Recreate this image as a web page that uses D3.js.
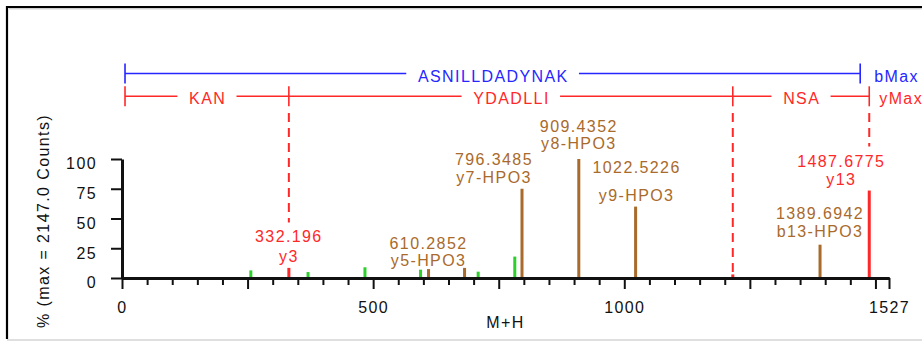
<!DOCTYPE html>
<html>
<head>
<meta charset="utf-8">
<script src="https://cdn.jsdelivr.net/npm/d3@7"></script>
<style>
  html, body { margin: 0; padding: 0; background: #fff; }
  svg { display: block; font-family: "Liberation Sans", Arial, sans-serif; }
  .t { font-size: 16px; letter-spacing: 1.4px; }
</style>
</head>
<body>
<svg id="chart" width="922" height="342"></svg>
<script>
// ---- data -------------------------------------------------------------
// unassigned peaks (green)
const otherMz  = [256.5, 370.4, 483.7, 594.4, 709.1, 782.0];
const otherInt = [6.4, 5.0, 9.0, 7.0, 5.3, 18.0];
// neutral-loss fragment peaks (brown)
const lossMz   = [610.2852, 682.0, 796.3485, 909.4352, 1022.5226, 1389.6942];
const lossInt  = [7.5, 8.5, 75, 100, 60, 28];
// y-ion peaks (red)
const yIonMz   = [332.196, 1216.0, 1487.6775];
const yIonInt  = [8.5, 3, 73.5];

// annotated peaks: m/z and ion name
const annotMz   = [332.196, 610.2852, 796.3485, 909.4352, 1022.5226, 1389.6942, 1487.6775];
const annotIon  = ["y3", "y5-HPO3", "y7-HPO3", "y8-HPO3", "y9-HPO3", "b13-HPO3", "y13"];
const annotKind = ["y", "loss", "loss", "loss", "loss", "loss", "y"];

// sequence coverage brackets
const seqStart   = 6;
const bMax       = 1469.66;
const bLabel     = "ASNILLDADYNAK";
const yBounds    = [6, 332.196, 1216.0, 1487.6775];
const ySegLabels = ["KAN", "YDADLLI", "NSA"];
const yDividers  = [332.196, 1216.0, 1487.6775];

// axes
const xMax        = 1527;
const xTickLabels = [0, 500, 1000, 1527];
const yTicks      = [0, 25, 50, 75, 100];
const yTitle      = "% (max = 2147.0 Counts)";
const xTitle      = "M+H";

// ---- layout -----------------------------------------------------------
const colors = { other: "#2ccf2c", loss: "#a96a2b", y: "#ff2828", b: "#2626ff", axis: "#111" };
// label nudges in pixels: dx, dy of lower line, gap between the two lines
const labelNudge = [
  { dx: 0,   dy: 0,  gap: 19.5 },
  { dx: 0,   dy: 3,  gap: 17 },
  { dx: -28, dy: 0,  gap: 18 },
  { dx: 0,   dy: -4, gap: 17 },
  { dx: 1,   dy: 0,  gap: 28 },
  { dx: 0,   dy: -2, gap: 18 },
  { dx: -28, dy: 0,  gap: 18 }
];

const svg = d3.select("#chart");
const x = d3.scaleLinear().domain([0, xMax]).range([122, 889]);
const y = d3.scaleLinear().domain([0, 100]).range([278, 159]);

// frame
svg.append("line").attr("x1", 7).attr("x2", 922).attr("y1", 340).attr("y2", 340)
  .attr("stroke", "#d4d4d4").attr("stroke-width", 1.5);
svg.append("path").attr("d", "M7,339V7H922").attr("fill", "none")
  .attr("stroke", "#000").attr("stroke-width", 2.2);
svg.append("line").attr("x1", 9).attr("x2", 922).attr("y1", 8.8).attr("y2", 8.8)
  .attr("stroke", "#bbb").attr("stroke-width", 1);

// peaks
function drawPeaks(mz, ints, color) {
  svg.append("g").selectAll("rect").data(d3.zip(mz, ints)).join("rect")
    .attr("x", d => x(d[0]) - 1.5)
    .attr("width", 3)
    .attr("y", d => y(d[1]))
    .attr("height", d => y(0) - y(d[1]))
    .attr("fill", color);
}
drawPeaks(otherMz, otherInt, colors.other);
drawPeaks(lossMz, lossInt, colors.loss);
drawPeaks(yIonMz, yIonInt, colors.y);

// axes
const minorTicks = d3.range(0, xMax, 50).filter(v => v % 250 !== 0);
const majorTicks = d3.range(0, xMax, 250).concat([xMax]);

const gxMinor = svg.append("g").attr("transform", `translate(0,${y(0)})`)
  .call(d3.axisBottom(x).tickValues(minorTicks).tickSize(7).tickSizeOuter(0).tickFormat(""));
const gxMajor = svg.append("g").attr("transform", `translate(0,${y(0)})`)
  .call(d3.axisBottom(x).tickValues(majorTicks).tickSize(11).tickSizeOuter(0).tickPadding(13)
    .tickFormat(v => xTickLabels.includes(v) ? v : ""));
const gy = svg.append("g").attr("transform", `translate(${x(0)},0)`)
  .call(d3.axisLeft(y).tickValues(yTicks).tickSize(11).tickSizeOuter(0).tickPadding(14));

[gxMinor, gxMajor, gy].forEach(g => {
  g.select(".domain").attr("stroke", colors.axis).attr("stroke-width", 3);
  g.selectAll(".tick line").attr("stroke", colors.axis).attr("stroke-width", 2);
  g.selectAll("text").attr("class", "t").attr("fill", "#111")
    .style("font-family", "'Liberation Sans', Arial, sans-serif").attr("font-size", null);
});
gy.selectAll(".tick text").attr("dy", "0.62em");
gxMajor.selectAll(".tick text").attr("dy", "0.71em");

// axis titles
svg.append("text").attr("class", "t").attr("text-anchor", "middle")
  .attr("x", (x(0) + x(xMax)) / 2).attr("y", 328).attr("fill", "#111").text(xTitle);
svg.append("text").attr("class", "t").attr("text-anchor", "middle")
  .attr("transform", "translate(49,221) rotate(-90)").attr("fill", "#111").text(yTitle);

// peak annotations
const labelTops = {};
annotMz.forEach((mz, i) => {
  const all = d3.zip(lossMz.concat(yIonMz), lossInt.concat(yIonInt));
  const inten = all.find(d => d[0] === mz)[1];
  const n = labelNudge[i];
  const cx = x(mz) + n.dx;
  const base2 = y(inten) - 6 + n.dy;
  const base1 = base2 - n.gap;
  const col = annotKind[i] === "y" ? colors.y : colors.loss;
  const g = svg.append("g").attr("fill", col).attr("text-anchor", "middle");
  g.append("text").attr("class", "t").attr("x", cx).attr("y", base1).text(String(mz));
  g.append("text").attr("class", "t").attr("x", cx).attr("y", base2).text(annotIon[i]);
  labelTops[mz] = base1 - 12;
});

// coverage brackets
function bracket(yPos, bounds, labels, color, endLabel, endX) {
  const g = svg.append("g").attr("stroke", color).attr("stroke-width", 1.6);
  bounds.forEach(b => g.append("line").attr("x1", x(b)).attr("x2", x(b))
    .attr("y1", yPos - 10).attr("y2", yPos + 10));
  labels.forEach((lab, i) => {
    const x0 = x(bounds[i]), x1 = x(bounds[i + 1]);
    const t = svg.append("text").attr("class", "t").attr("fill", color)
      .attr("text-anchor", "middle").attr("x", (x0 + x1) / 2 + 0.7).attr("y", yPos + 8).text(lab);
    const w = t.node().getComputedTextLength();
    const pad = 11;
    g.append("line").attr("x1", x0).attr("x2", (x0 + x1) / 2 - w / 2 - pad).attr("y1", yPos).attr("y2", yPos);
    g.append("line").attr("x1", (x0 + x1) / 2 + w / 2 + pad).attr("x2", x1).attr("y1", yPos).attr("y2", yPos);
  });
  svg.append("text").attr("class", "t").attr("fill", color)
    .attr("x", endX).attr("y", yPos + 8).text(endLabel);
}
bracket(73.5, [seqStart, bMax], [bLabel], colors.b, "bMax", x(bMax) + 14);
bracket(96.3, yBounds, ySegLabels, colors.y, "yMax", x(yBounds[yBounds.length - 1]) + 10);

// dashed dividers from the y bracket down to the peak or its label
svg.append("g").selectAll("line").data(yDividers).join("line")
  .attr("x1", d => x(d)).attr("x2", d => x(d))
  .attr("y1", 113)
  .attr("y2", d => labelTops[d] !== undefined ? labelTops[d] - 8 : y(0))
  .attr("stroke", colors.y).attr("stroke-width", 2).attr("stroke-dasharray", "9,6");
</script>
</body>
</html>
